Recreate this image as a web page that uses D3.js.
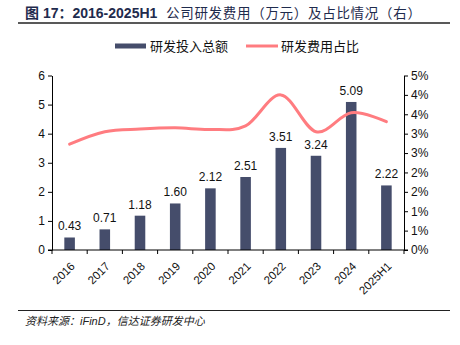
<!DOCTYPE html>
<html>
<head>
<meta charset="utf-8">
<script src="https://cdn.jsdelivr.net/npm/d3@7"></script>
<style>
  body { margin: 0; background: #fff; }
  svg { display: block; }
  text { font-family: "Liberation Sans", Arial, "Noto Sans CJK SC", sans-serif; }
</style>
</head>
<body>
<script>
// 数据：研发投入（亿元）与研发费用占比（%）
var years = ["2016", "2017", "2018", "2019", "2020", "2021", "2022", "2023", "2024", "2025H1"];
var rdSpend = [0.43, 0.71, 1.18, 1.60, 2.12, 2.51, 3.51, 3.24, 5.09, 2.22];
var rdRatio = [2.73, 3.05, 3.12, 3.15, 3.11, 3.2, 4.0, 3.05, 3.54, 3.31];
var leftTicks = [0, 1, 2, 3, 4, 5, 6];
var rightTicks = [0, 0.5, 1, 1.5, 2, 2.5, 3, 3.5, 4, 4.5];
var seriesNames = ["研发投入总额", "研发费用占比"];

var W = 460, H = 345;
var barColor = "#454d6b", lineColor = "#ff7c80", inkColor = "#1f2b4d";

var svg = d3.select("body").append("svg")
    .attr("width", W)
    .attr("height", H);

// 标题和上下分隔线
var title = svg.append("text")
    .attr("x", 25)
    .attr("y", 18)
    .attr("fill", inkColor)
    .attr("font-size", 14);
title.append("tspan")
    .attr("font-weight", "bold")
    .text("图 17：2016-2025H1");
title.append("tspan")
    .attr("x", 166)
    .attr("font-size", 13.5)
    .attr("letter-spacing", 0.7)
    .attr("font-family", "'Noto Sans CJK SC', sans-serif")
    .text("公司研发费用（万元）及占比情况（右）");

svg.append("line")
    .attr("x1", 18).attr("x2", 450)
    .attr("y1", 23).attr("y2", 23)
    .attr("stroke", "#222").attr("stroke-width", 1.5);

svg.append("line")
    .attr("x1", 18).attr("x2", 450)
    .attr("y1", 310.5).attr("y2", 310.5)
    .attr("stroke", "#222").attr("stroke-width", 1.2);

svg.append("text")
    .attr("x", 25)
    .attr("y", 325)
    .attr("font-size", 11)
    .attr("font-style", "italic")
    .attr("fill", "#222")
    .attr("font-family", "'Noto Serif CJK SC', 'Noto Sans CJK SC', serif")
    .text("资料来源：iFinD，信达证券研发中心");

// 绘图区边界
var plot = { left: 52, right: 404, top: 75.5, bottom: 250 };

var x = d3.scaleBand()
    .domain(years)
    .range([plot.left, plot.right])
    .paddingInner(0.7)
    .paddingOuter(0.35);

var xStep = d3.scaleBand().domain(years).range([plot.left, plot.right]);

var y = d3.scaleLinear().domain([0, 6]).range([plot.bottom, plot.top]);
var y2 = d3.scaleLinear().domain([0, 4.5]).range([plot.bottom, plot.top]);

// 柱子
svg.append("g")
    .selectAll("rect")
    .data(years)
    .enter().append("rect")
    .attr("x", function (d) { return x(d); })
    .attr("y", function (d, i) { return y(rdSpend[i]); })
    .attr("width", x.bandwidth())
    .attr("height", function (d, i) { return plot.bottom - y(rdSpend[i]); })
    .attr("fill", barColor);

// 柱顶数值
svg.append("g")
    .selectAll("text")
    .data(years)
    .enter().append("text")
    .attr("x", function (d) { return x(d) + x.bandwidth() / 2; })
    .attr("y", function (d, i) { return y(rdSpend[i]) - 7; })
    .attr("text-anchor", "middle")
    .attr("font-size", 12)
    .attr("fill", "#111")
    .text(function (d, i) { return rdSpend[i].toFixed(2); });

// 占比曲线（平滑）
var line = d3.line()
    .x(function (d, i) { return x(years[i]) + x.bandwidth() / 2; })
    .y(function (d) { return y2(d); })
    .curve(d3.curveCardinal.tension(0));

svg.append("path")
    .datum(rdRatio)
    .attr("d", line)
    .attr("fill", "none")
    .attr("stroke", lineColor)
    .attr("stroke-width", 3)
    .attr("stroke-linecap", "round");

// 左轴
var gl = svg.append("g")
    .attr("transform", "translate(" + plot.left + ",0)")
    .call(d3.axisLeft(y).tickValues(leftTicks).tickSize(4).tickSizeOuter(0).tickFormat(d3.format("d")));

// 右轴（0.5% 间隔，取整显示）
var gr = svg.append("g")
    .attr("transform", "translate(" + plot.right + ",0)")
    .call(d3.axisRight(y2).tickValues(rightTicks).tickSize(4).tickSizeOuter(0)
        .tickFormat(function (d) { return Math.floor(d + 0.5) + "%"; }));

// 横轴：刻度在类别之间
var gx = svg.append("g")
    .attr("transform", "translate(0," + plot.bottom + ")");
gx.append("line")
    .attr("x1", plot.left - 4).attr("x2", plot.right + 4)
    .attr("stroke", "#000");
gx.selectAll(".tick-mark")
    .data(years.concat(["end"]))
    .enter().append("line")
    .attr("x1", function (d, i) { return plot.left + i * xStep.step(); })
    .attr("x2", function (d, i) { return plot.left + i * xStep.step(); })
    .attr("y2", 4)
    .attr("stroke", "#000");
gx.selectAll(".xlabel")
    .data(years)
    .enter().append("text")
    .attr("transform", function (d) {
        return "translate(" + (x(d) + x.bandwidth() / 2 + 3) + ",14) rotate(-45)";
    })
    .attr("text-anchor", "end")
    .attr("dy", "0.35em")
    .attr("font-size", 11.5)
    .attr("fill", "#111")
    .text(function (d) { return d; });

[gl, gr].forEach(function (g) {
    g.selectAll("text").attr("font-size", 12).attr("fill", "#111")
        .attr("font-family", "'Liberation Sans', Arial, sans-serif");
    g.selectAll("line").attr("stroke", "#000");
    g.select(".domain").attr("stroke", "#000");
});
gl.selectAll("text").attr("x", -7);
gr.selectAll("text").attr("x", 7);

// 图例
var legend = svg.append("g")
    .attr("font-size", 13)
    .attr("font-family", "'Noto Sans CJK SC', sans-serif")
    .attr("fill", "#111");
legend.append("rect")
    .attr("x", 115).attr("y", 43.5)
    .attr("width", 31).attr("height", 5)
    .attr("fill", barColor);
legend.append("text")
    .attr("x", 150).attr("y", 46).attr("dy", "0.35em")
    .text(seriesNames[0]);
legend.append("line")
    .attr("x1", 246).attr("x2", 278)
    .attr("y1", 46).attr("y2", 46)
    .attr("stroke", lineColor).attr("stroke-width", 3);
legend.append("text")
    .attr("x", 281).attr("y", 46).attr("dy", "0.35em")
    .text(seriesNames[1]);
</script>
</body>
</html>
